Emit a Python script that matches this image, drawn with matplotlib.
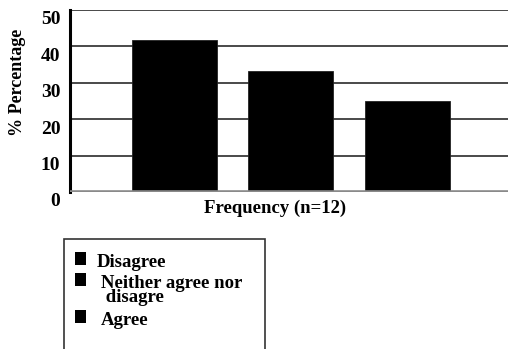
import matplotlib.pyplot as plt
from matplotlib.patches import Rectangle
from matplotlib.transforms import ScaledTranslation

# responses out of n=12
categories = ['Disagree', 'Neither agree nor\n disagre', 'Agree']
percentages = [5 / 12 * 100, 4 / 12 * 100, 3 / 12 * 100]
yticks = [0, 10, 20, 30, 40, 50]

plt.rcParams['font.family'] = ['Liberation Serif', 'DejaVu Serif']
plt.rcParams['font.weight'] = 'bold'

W, H = 508, 349
fig = plt.figure(figsize=(W / 100, H / 100), dpi=100)
ax = fig.add_axes([70 / W, 1 - 192 / H, (W - 70) / W, 182 / H])

bars = []
for i, (cat, pct) in enumerate(zip(categories, percentages)):
    b = ax.bar(i, pct, width=0.73, color='black', edgecolor='#222222',
               linewidth=0.6, label=cat, zorder=3)
    bars.append(b[0])

ax.set_xlim(-0.897, 2.863)
ax.set_ylim(0, 50)
ax.set_xticks([])
ax.set_yticks(yticks)
ax.set_yticklabels([str(t) for t in yticks], fontsize=14, fontweight='bold')
ax.tick_params(axis='y', length=0, pad=7)
# numbers sit a little below their grid lines
for lab in ax.get_yticklabels():
    lab.set_transform(lab.get_transform() +
                      ScaledTranslation(0, -0.08, fig.dpi_scale_trans))

for t in yticks[1:]:
    ax.axhline(t, color='#3a3a3a', linewidth=1.3, zorder=1)
ax.axhline(0, color='#8a8a8a', linewidth=2.6, zorder=4)

for s in ['top', 'right', 'bottom']:
    ax.spines[s].set_visible(False)
ax.spines['left'].set_linewidth(2.2)
ax.spines['left'].set_color('black')

fig.text(18 / W, 1 - 82 / H, '% Percentage', rotation=90,
         ha='center', va='center', fontsize=13, fontweight='bold')
fig.text(275 / W, 1 - 208 / H, 'Frequency (n=12)',
         ha='center', va='center', fontsize=13.5, fontweight='bold')

# legend box, open at the bottom edge of the figure
box = Rectangle((64 / W, -0.05), (265 - 64) / W, (1 - 239 / H) + 0.05,
                transform=fig.transFigure, fill=False, edgecolor='#333333',
                linewidth=1.2)
fig.patches.append(box)

# legend entries: square key + label, key lined up with the first line
key_tops = [252, 273, 310]
text_x = [97, 101, 101]
for bar, cat, top, tx in zip(bars, categories, key_tops, text_x):
    fig.patches.append(Rectangle((75 / W, 1 - (top + 13) / H), 11 / W, 13 / H,
                                 transform=fig.transFigure,
                                 facecolor=bar.get_facecolor(),
                                 edgecolor='none'))
    fig.text(tx / W, 1 - (top + 2) / H, cat, ha='left', va='top',
             fontsize=13.5, fontweight='bold', linespacing=0.8)

fig.savefig('out.png', dpi=100)
